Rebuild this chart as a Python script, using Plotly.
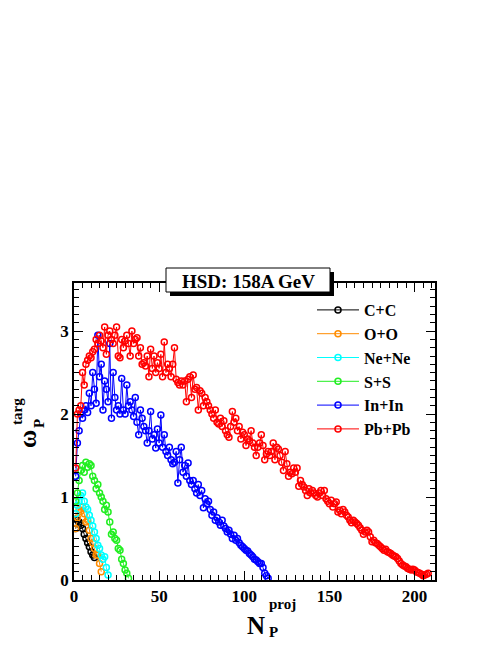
import plotly.graph_objects as go

# N_P^proj values are integers 1..n for each system
cc_y = [0.62, 0.72, 0.70, 0.66, 0.62, 0.55, 0.50, 0.45, 0.40, 0.34, 0.30, 0.27]

oo_y = [0.62, 0.75, 0.85, 0.83, 0.88, 0.80, 0.70, 0.72, 0.60, 0.50,
        0.45, 0.38, 0.30, 0.30, 0.20, 0.10]

nene_y = [0.80, 0.90, 0.95, 1.02, 1.05, 0.95, 0.88, 0.85, 0.78, 0.72,
          0.65, 0.58, 0.50, 0.42, 0.38, 0.30, 0.25, 0.28, 0.15, 0.06]

ss_y = [0.95, 1.05, 1.20, 1.32, 1.38, 1.30, 1.42, 1.36, 1.40, 1.38,
        1.25, 1.20, 1.10, 1.15, 1.05, 1.00, 0.95, 0.85, 0.90, 0.82,
        0.70, 0.55, 0.58, 0.50, 0.48, 0.38, 0.36, 0.25, 0.20, 0.12,
        0.08, 0.02]

inin_y = [1.25, 1.65, 1.80, 2.00, 1.95, 2.05, 2.10, 2.02, 2.25, 2.10,
          2.50, 2.30, 2.13, 2.95, 2.45, 2.60, 2.05, 2.40, 2.30, 2.15,
          2.85, 1.95, 2.50, 2.20, 2.05, 2.10, 2.00, 2.43, 2.05, 2.00,
          2.35, 2.10, 2.15, 2.05, 1.97, 2.20, 1.90, 1.75, 2.05, 1.95,
          1.85, 1.80, 1.65, 1.80, 2.03, 1.70, 1.75, 1.59, 1.82, 1.65,
          1.99, 1.60, 1.75, 1.55, 1.50, 1.60, 1.45, 1.40, 1.42, 1.55,
          1.17, 1.45, 1.60, 1.30, 1.38, 1.25, 1.41, 1.20, 1.15, 1.20,
          1.10, 1.05, 1.15, 1.02, 1.08, 0.87, 0.98, 0.92, 0.95, 0.85,
          0.78, 0.82, 0.72, 0.75, 0.70, 0.66, 0.72, 0.65, 0.62, 0.58,
          0.60, 0.55, 0.50, 0.54, 0.48, 0.50, 0.45, 0.42, 0.40, 0.38,
          0.36, 0.35, 0.32, 0.30, 0.28, 0.25, 0.24, 0.22, 0.20, 0.20,
          0.15, 0.08, 0.05, 0.02]

pbpb_y = [1.35, 2.00, 2.05, 2.10, 2.50, 2.35, 2.60, 2.65, 2.70, 2.68,
          2.75, 2.78, 2.90, 2.85, 2.95, 2.88, 2.80, 3.05, 2.72, 2.95,
          3.00, 2.90, 2.85, 2.95, 3.05, 2.70, 2.68, 2.90, 2.80, 2.88,
          2.95, 2.85, 2.70, 3.00, 2.85, 2.90, 2.92, 2.70, 2.80, 2.60,
          2.62, 2.58, 2.70, 2.45, 2.78, 2.55, 2.70, 2.50, 2.62, 2.55,
          2.72, 2.45, 2.87, 2.50, 2.60, 2.55, 2.45, 2.60, 2.80, 2.42,
          2.38, 2.35, 2.40, 2.35, 2.40, 2.15, 2.42, 2.45, 2.20, 2.47,
          2.30, 2.32, 2.05, 2.28, 2.25, 2.10, 2.20, 2.15, 2.10, 2.05,
          2.00, 1.95, 2.05, 1.90, 1.88, 1.95, 1.85, 1.92, 1.80, 1.75,
          1.72, 1.85, 2.03, 1.90, 1.95, 1.80, 1.85, 1.70, 1.78, 1.75,
          1.62, 1.70, 1.68, 1.80, 1.65, 1.60, 1.50, 1.60, 1.65, 1.75,
          1.62, 1.45, 1.52, 1.55, 1.50, 1.55, 1.65, 1.45, 1.60, 1.58,
          1.50, 1.42, 1.32, 1.55, 1.40, 1.25, 1.30, 1.28, 1.35, 1.30,
          1.35, 1.13, 1.20, 1.15, 1.12, 1.08, 1.02, 1.10, 1.05, 1.08,
          1.05, 1.02, 1.00, 1.05, 1.08, 1.02, 1.08, 0.98, 0.95, 0.92,
          0.96, 0.88, 0.92, 0.94, 0.82, 0.84, 0.80, 0.85, 0.82, 0.78,
          0.76, 0.72, 0.69, 0.72, 0.70, 0.68, 0.66, 0.63, 0.60, 0.55,
          0.58, 0.60, 0.58, 0.52, 0.46, 0.48, 0.45, 0.44, 0.42, 0.40,
          0.38, 0.36, 0.37, 0.34, 0.33, 0.32, 0.30, 0.29, 0.28, 0.26,
          0.23, 0.20, 0.18, 0.17, 0.16, 0.14, 0.13, 0.12, 0.13, 0.12,
          0.10, 0.09, 0.08, 0.07, 0.05, 0.06, 0.07, 0.08]

systems = ["C+C", "O+O", "Ne+Ne", "S+S", "In+In", "Pb+Pb"]
values = [cc_y, oo_y, nene_y, ss_y, inin_y, pbpb_y]
colors = ["#000000", "#ff8c00", "#00ffff", "#22ee22", "#0000ff", "#ff0000"]

SERIF = "Liberation Serif"

fig = go.Figure()
for name, ys, col in zip(systems, values, colors):
    fig.add_trace(go.Scatter(
        x=list(range(1, len(ys) + 1)),
        y=ys,
        name=f"<b>{name}</b>",
        mode="lines+markers",
        line=dict(color=col, width=1),
        marker=dict(symbol="circle-open", size=6, color=col, line=dict(width=1.5, color=col)),
    ))

axis_common = dict(
    showgrid=False, zeroline=False, showline=True, linecolor="black", linewidth=1.5,
    mirror="allticks", ticks="inside", ticklen=9, tickwidth=1.2, tickcolor="black",
    tickfont=dict(family=SERIF, size=17, color="black", weight="bold"),
)

fig.update_xaxes(range=[0, 212], dtick=50, tick0=0,
                 minor=dict(dtick=5, ticklen=5, ticks="inside", tickcolor="black"),
                 **axis_common)
fig.update_yaxes(range=[0, 3.58], dtick=1, tick0=0,
                 minor=dict(dtick=0.1, ticklen=5, ticks="inside", tickcolor="black"),
                 **axis_common)

# plot frame in screen pixels: x 74..435, y 283..580 (page body has an 8px margin)
L, R, T, B = 74, 435, 283, 580
OFF = 8
W, H = 498 - OFF, 645 - OFF


def px(x):
    return (x - L) / (R - L)


def py(y):
    return (B - y) / (B - T)


shapes = [
    # title box shadow
    dict(type="rect", xref="paper", yref="paper", x0=px(170), x1=px(334), y0=py(296), y1=py(272),
         fillcolor="black", line=dict(width=0), layer="above"),
    dict(type="rect", xref="paper", yref="paper", x0=px(166), x1=px(330), y0=py(292), y1=py(268),
         fillcolor="white", line=dict(color="black", width=1), layer="above"),
]


def label(text, x, y, size, angle=0, xanchor="center"):
    return dict(text=text, x=px(x), y=py(y), xref="paper", yref="paper", showarrow=False,
                xanchor=xanchor, yanchor="middle", textangle=angle,
                font=dict(family=SERIF, size=size, color="black"))


annotations = [
    label("<b>HSD: 158A GeV</b>", 248, 281, 19),
    # x title
    label("<b>N</b>", 256, 625, 25),
    label("<b>proj</b>", 267, 604, 15, xanchor="left"),
    label("<b>P</b>", 267, 632, 15, xanchor="left"),
    # y title
    label("<b>ω</b>", 27, 439, 25, angle=-90),
    label("<b>targ</b>", 17, 412, 15, angle=-90),
    label("<b>P</b>", 39, 424, 15, angle=-90),
]

fig.update_layout(
    width=W, height=H,
    margin=dict(l=L - OFF, r=498 - R, t=T - OFF, b=645 - B),
    plot_bgcolor="white", paper_bgcolor="white",
    showlegend=True,
    legend=dict(x=px(312), y=py(293), xanchor="left", yanchor="top", itemwidth=42,
                bgcolor="rgba(0,0,0,0)", font=dict(family=SERIF, size=16, color="black")),
    shapes=shapes,
    annotations=annotations,
)

fig.write_html("out.html")
